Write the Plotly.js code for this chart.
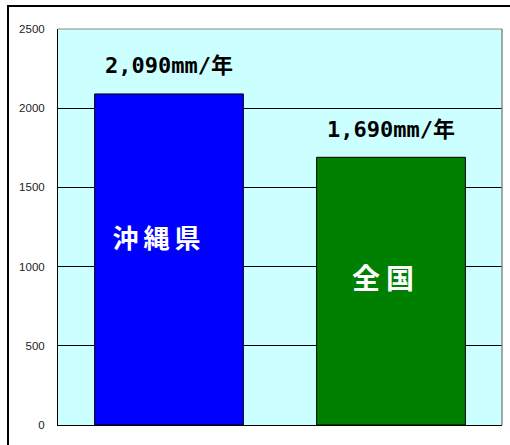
<!DOCTYPE html>
<html>
<head>
<meta charset="utf-8">
<script src="https://cdn.plot.ly/plotly-3.0.1.min.js"></script>
<style>
html,body{margin:0;padding:0;background:#fff;overflow:hidden;}
#wrap{position:relative;width:510px;height:445px;}
#chart{position:absolute;left:0;top:0;width:510px;height:445px;}
#frame{position:absolute;left:7px;top:5px;width:700px;height:700px;border-left:2.5px solid #000;border-top:2.5px solid #000;pointer-events:none;}
</style>
</head>
<body>
<div id="wrap"><div id="chart"></div><div id="frame"></div></div>
<script>
const categories = ["沖縄県", "全国"];
const values = [2090, 1690];
const valueLabels = ["2,090mm/年", "1,690mm/年"];
const barColors = ["#0000FF", "#008000"];
const yTicks = [0, 500, 1000, 1500, 2000, 2500];

const trace = {
  type: "bar",
  x: categories,
  y: values,
  marker: {color: barColors, line: {color: "#000", width: 1}},
  hoverinfo: "none"
};

const annotations = [];
categories.forEach((c, i) => {
  annotations.push({
    x: c, y: values[i], xref: "x", yref: "y",
    text: "<b>" + valueLabels[i] + "</b>",
    showarrow: false, yanchor: "middle", yshift: 28,
    font: {family: "DejaVu Sans Mono, Noto Sans CJK JP, monospace", size: 22, color: "#000"}
  });
});
annotations.push({
  x: categories[0], y: values[0] / 2 + 142, xref: "x", yref: "y",
  text: "<b>" + categories[0] + "</b>", showarrow: false, xshift: -10,
  font: {family: "Noto Sans CJK JP", size: 26, color: "#fff"}
});
annotations.push({
  x: categories[1], y: values[1] / 2 + 90, xref: "x", yref: "y",
  text: "<b>" + categories[1] + "</b>", showarrow: false, xshift: -5,
  font: {family: "Noto Sans CJK JP", size: 28, color: "#fff"}
});

const layout = {
  width: 510, height: 445,
  margin: {l: 58, r: 8, t: 29, b: 20, pad: 0},
  paper_bgcolor: "#fff",
  plot_bgcolor: "#CCFFFF",
  bargap: 0.33,
  showlegend: false,
  xaxis: {
    showticklabels: false, showgrid: false, zeroline: false,
    showline: true, linecolor: "#000", linewidth: 1, ticks: ""
  },
  yaxis: {
    range: [0, 2500], tickvals: yTicks, ticktext: yTicks.map(String),
    showgrid: true, gridcolor: "#000", gridwidth: 1, zeroline: false,
    showline: true, linecolor: "#000", linewidth: 1,
    ticks: "outside", ticklen: 0, ticklabelstandoff: 10,
    tickfont: {family: "Liberation Sans, Arial", size: 11.5, color: "#222"}
  },
  shapes: [
    {type: "line", xref: "paper", yref: "paper", x0: 0, x1: 1, y0: 1, y1: 1, line: {color: "#888", width: 1}},
    {type: "line", xref: "paper", yref: "paper", x0: 1, x1: 1, y0: 0, y1: 1, line: {color: "#888", width: 1.5}}
  ],
  annotations: annotations
};

Plotly.newPlot("chart", [trace], layout, {staticPlot: true, displayModeBar: false}).then(function (gd) {
  const texts = gd.querySelectorAll(".annotation-text");
  if (texts[2]) texts[2].style.letterSpacing = "5px";
  if (texts[3]) texts[3].style.letterSpacing = "6px";
});
</script>
</body>
</html>
